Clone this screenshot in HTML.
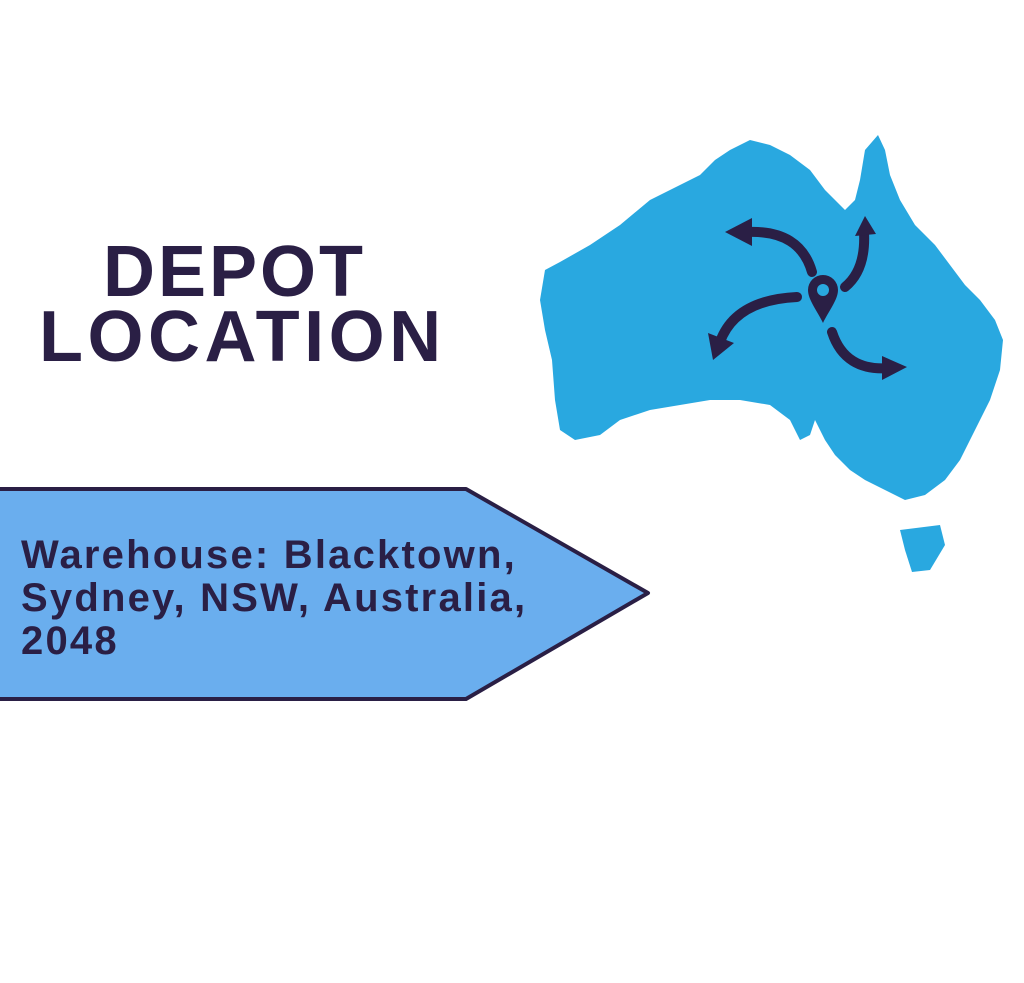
<!DOCTYPE html>
<html><head><meta charset="utf-8"><style>
html,body{margin:0;padding:0;background:#fff;}
body{width:1024px;height:983px;position:relative;overflow:hidden;font-family:"Liberation Sans",sans-serif;}
.t{position:absolute;color:#2a1f45;font-weight:bold;white-space:nowrap;}
</style></head><body>
<div class="t" style="left:103px;top:232px;font-size:72px;letter-spacing:3px;line-height:80px;">DEPOT</div>
<div class="t" style="left:39px;top:297px;font-size:72px;letter-spacing:4.5px;line-height:80px;">LOCATION</div>
<svg width="1024" height="983" style="position:absolute;left:0;top:0">
<polygon points="-5,489 466,489 648,593 466,699 -5,699" fill="#6aaeee" stroke="#2a1f45" stroke-width="4" stroke-linejoin="round"/>
<path fill="#29a8e0" d="M545,270 L560,262 590,245 620,225 650,200 680,185 700,175 715,160 730,150 750,140 770,145 790,155 810,170 825,190 835,200 845,210 855,200 860,180 865,150 878,135 885,150 890,175 900,200 915,225 935,245 950,265 965,285 980,300 995,320 1003,340 1000,370 990,400 975,430 960,460 945,480 925,495 905,500 885,490 865,480 850,470 835,455 825,440 815,420 810,435 800,440 790,420 770,405 740,400 710,400 680,405 650,410 620,420 600,435 575,440 560,430 555,400 552,360 545,330 540,300 Z"/>
<path fill="#29a8e0" d="M900,530 L940,525 945,545 930,570 912,572 905,550 Z"/>
<g fill="none" stroke="#2a1f45" stroke-width="10" stroke-linecap="round">
<path d="M812,272 Q800,230 748,232"/>
<path d="M845,287 Q866,270 864,232"/>
<path d="M797,297 Q735,300 720,342"/>
<path d="M832,332 Q845,372 890,368"/>
</g>
<g fill="#2a1f45">
<polygon points="725,232 752,218 752,246"/>
<polygon points="865,216 855,236 876,234"/>
<polygon points="713,360 708,333 734,343"/>
<polygon points="907,367 882,356 882,380"/>
<path d="M823,275 a15,15 0 0 1 15,15 c0,10 -10,22 -15,33 c-5,-11 -15,-23 -15,-33 a15,15 0 0 1 15,-15 z"/>
</g>
<circle cx="823" cy="290" r="6" fill="#29a8e0"/>
</svg>
<div class="t" style="left:21px;top:534px;font-size:40px;letter-spacing:2.2px;line-height:43px;">Warehouse: Blacktown,<br>Sydney, NSW, Australia,<br>2048</div>
</body></html>
